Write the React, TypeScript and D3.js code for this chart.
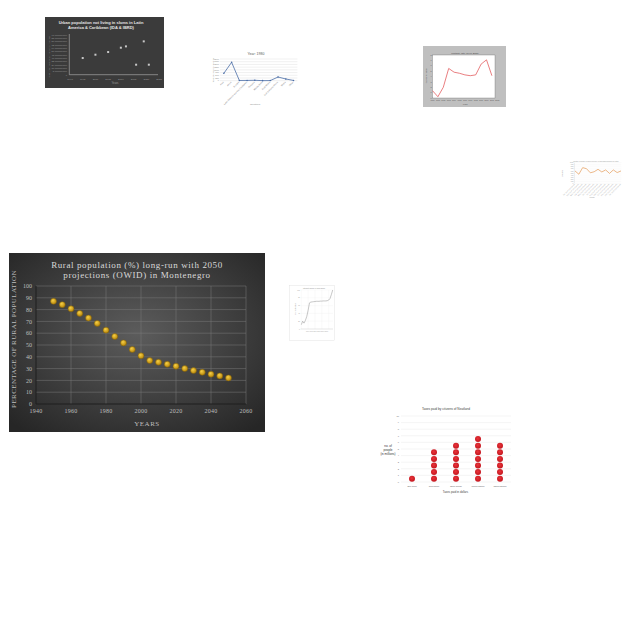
import React from 'react';
import * as d3 from 'd3';

// ---- main chart: rural population Montenegro ----
const ruralYears = [1950, 1955, 1960, 1965, 1970, 1975, 1980, 1985, 1990, 1995, 2000, 2005, 2010, 2015, 2020, 2025, 2030, 2035, 2040, 2045, 2050];
const ruralShare = [87.0, 84.2, 80.7, 76.8, 72.8, 68.3, 62.6, 57.2, 51.8, 46.2, 40.8, 36.8, 35.4, 33.7, 32.0, 30.0, 28.3, 26.9, 25.2, 23.8, 22.1];
const ruralXTicks = [1940, 1960, 1980, 2000, 2020, 2040, 2060];
const ruralYTicks = [0, 10, 20, 30, 40, 50, 60, 70, 80, 90, 100];

// ---- slums scatter (top left) ----
const slumYears = [1995, 2000, 2005, 2010, 2012, 2016, 2019, 2021];
const slumValues = [5.0, 6.0, 6.8, 8.1, 8.5, 3.0, 10.0, 3.0];
const slumXTicks = [1990, 1995, 2000, 2005, 2010, 2015, 2020, 2025];
const slumYTicks = [0, 1, 2, 3, 4, 5, 6, 7, 8, 9, 10, 11, 12];

// ---- year 1980 line ----
const regionNames = ['Asia', 'Africa', 'Europe', 'Latin America and the Caribbean', 'Oceania', 'Middle East', 'Arab World', 'Sub-Saharan Africa', 'World', 'Other'];
const regionValues = [682, 1696, 20, 25, 40, 5, 12, 341, 157, 25];
const regionYTicks = [0, 250, 500, 750, 1000, 1250, 1500, 1750, 2000];

// ---- mortality line (gray box) ----
const mortYears = [1990, 1991, 1992, 1993, 1994, 1995, 1996, 1997, 1998, 1999, 2000, 2001];
const mortValues = [1.36, 0.24, 2.0, 5.5, 4.8, 4.6, 4.3, 4.15, 4.3, 6.3, 7.1, 4.15];
const mortYTicks = [0, 1, 2, 3, 4, 5, 6, 7, 8];

// ---- orange line (right) ----
const orangeLabels = ['Jan 2014', 'Feb 2014', 'Mar 2014', 'Apr 2014', 'May 2014', 'Jun 2014', 'Jul 2014', 'Aug 2014', 'Sep 2014', 'Oct 2014', 'Nov 2014', 'Dec 2014', 'Jan 2015'];
const orangeValues = [60, 44, 76, 71, 51, 56, 68, 55, 65, 48, 65, 52, 60];
const orangeYTicks = [0, 10, 20, 30, 40, 50, 60, 70, 80, 90, 100];

// ---- small gray line ----
const grayIndex = [0, 1, 2, 3, 4, 5, 6, 7, 8, 9, 10, 11, 12, 13, 14, 15, 16, 17, 18, 19, 20, 21, 22, 23];
const grayValues = [11, 20, 15, 22, 32, 48, 67, 69, 69.5, 70, 70.5, 71, 71, 71, 71.5, 71.5, 72, 72, 72, 72.5, 74, 78, 88, 100];
const grayYTicks = [0, 20, 40, 60, 80, 100];

// ---- taxes dot plot ----
const taxBands = ['500-1000', '1000-5000', '5000-10000', '10000-15000', '15000-20000'];
const taxPeople = [1, 5, 6, 7, 6];
const taxYTicks = [0, 1, 2, 3, 4, 5, 6, 7, 8, 9, 10];

const serif = '"Liberation Serif", "DejaVu Serif", serif';
const sans = '"Liberation Sans", Arial, sans-serif';

function RuralChart() {
  const x = d3.scaleLinear().domain([1940, 2060]).range([36, 246]);
  const y = d3.scaleLinear().domain([0, 100]).range([404, 286]);
  return (
    <g>
      <defs>
        <radialGradient id="ruralBg" cx="50%" cy="45%" r="70%">
          <stop offset="0%" stopColor="#5c5c5c" />
          <stop offset="100%" stopColor="#262626" />
        </radialGradient>
        <radialGradient id="dotGold" cx="40%" cy="35%" r="65%">
          <stop offset="0%" stopColor="#f6cf45" />
          <stop offset="100%" stopColor="#b8860b" />
        </radialGradient>
      </defs>
      <rect x={9} y={253} width={256} height={179} fill="url(#ruralBg)" />
      <text x={137} y={268} textAnchor="middle" fill="#d9d9d9" fontFamily={serif} fontSize={9} letterSpacing={0.6}>
        Rural population (%) long-run with 2050
      </text>
      <text x={137} y={278} textAnchor="middle" fill="#d9d9d9" fontFamily={serif} fontSize={9} letterSpacing={0.6}>
        projections (OWID) in Montenegro
      </text>
      {ruralYTicks.filter((t) => t > 0).map((t) => (
        <line key={'h' + t} x1={x(1940)} x2={x(2060)} y1={y(t)} y2={y(t)} stroke="#7a7a7a" strokeWidth={0.5} />
      ))}
      {ruralXTicks.filter((t) => t > 1940).map((t) => (
        <line key={'v' + t} x1={x(t)} x2={x(t)} y1={y(0)} y2={y(100)} stroke="#7a7a7a" strokeWidth={0.5} />
      ))}
      <line x1={x(1940)} x2={x(1940)} y1={y(0)} y2={y(100)} stroke="#1e1e1e" strokeWidth={1} />
      <line x1={x(1940)} x2={x(2060)} y1={y(0)} y2={y(0)} stroke="#1e1e1e" strokeWidth={1} />
      {ruralYTicks.map((t) => (
        <text key={'yl' + t} x={32} y={y(t)} dy="0.35em" textAnchor="end" fill="#bfbfbf" fontFamily={serif} fontSize={6}>
          {t}
        </text>
      ))}
      {ruralXTicks.map((t) => (
        <text key={'xl' + t} x={x(t)} y={413} textAnchor="middle" fill="#bfbfbf" fontFamily={serif} fontSize={6} letterSpacing={0.3}>
          {t}
        </text>
      ))}
      <text transform="translate(16,339) rotate(-90)" textAnchor="middle" fill="#bfbfbf" fontFamily={serif} fontSize={7} letterSpacing={0.4}>
        PERCENTAGE OF RURAL POPULATION
      </text>
      <text x={147} y={426} textAnchor="middle" fill="#bfbfbf" fontFamily={serif} fontSize={7} letterSpacing={0.5}>
        YEARS
      </text>
      {ruralYears.map((yr, i) => (
        <circle key={yr} cx={x(yr)} cy={y(ruralShare[i])} r={3} fill="url(#dotGold)" stroke="#7a5c0a" strokeWidth={0.5} />
      ))}
    </g>
  );
}

function SlumChart() {
  const x = d3.scaleLinear().domain([1990, 2025]).range([70, 159]);
  const y = d3.scaleLinear().domain([0, 12]).range([74.7, 34.7]);
  return (
    <g>
      <rect x={45} y={17} width={119} height={71} fill="#3b3b3b" />
      <text x={101} y={24} textAnchor="middle" fill="#e6e6e6" fontFamily={sans} fontWeight="bold" fontSize={4}>
        Urban population not living in slums in Latin
      </text>
      <text x={101} y={29} textAnchor="middle" fill="#e6e6e6" fontFamily={sans} fontWeight="bold" fontSize={4}>
        America &amp; Caribbean (IDA &amp; IBRD)
      </text>
      {slumYTicks.map((t) => (
        <text key={t} x={67} y={y(t)} dy="0.35em" textAnchor="end" fill="#9a9a9a" fontFamily={sans} fontSize={2.3}>
          {t === 0 ? '0' : (t * 8).toFixed(8) + '%'}
        </text>
      ))}
      <line x1={69.3} x2={69.3} y1={34} y2={74.7} stroke="#cfcfcf" strokeWidth={0.5} />
      <line x1={69.3} x2={158} y1={74.7} y2={74.7} stroke="#cfcfcf" strokeWidth={0.5} />
      {slumXTicks.map((t) => (
        <text key={t} x={x(t)} y={79.5} textAnchor="middle" fill="#9a9a9a" fontFamily={sans} fontSize={2.5}>
          {t}
        </text>
      ))}
      <text x={115} y={84} textAnchor="middle" fill="#9a9a9a" fontFamily={sans} fontSize={2.8}>
        Years
      </text>
      <text transform="translate(50,57) rotate(-90)" textAnchor="middle" fill="#9a9a9a" fontFamily={sans} fontSize={2.3}>
        % of urban population not living in slums
      </text>
      {slumYears.map((yr, i) => (
        <rect key={yr} x={x(yr) - 1} y={y(slumValues[i]) - 1} width={2} height={2} fill="#c8c8c8" />
      ))}
    </g>
  );
}

function RegionChart() {
  const x = d3.scalePoint<string>().domain(regionNames).range([220, 297.4]).padding(0.5);
  const y = d3.scaleLinear().domain([0, 2000]).range([80.7, 59]);
  const line = d3.line<number>().x((_, i) => x(regionNames[i]) as number).y((d) => y(d));
  return (
    <g>
      <text x={256} y={55} textAnchor="middle" fill="#595959" fontFamily={sans} fontSize={3.5}>
        Year: 1980
      </text>
      {regionYTicks.map((t) => (
        <g key={t}>
          <line x1={220} x2={297.4} y1={y(t)} y2={y(t)} stroke="#d9d9d9" strokeWidth={0.4} />
          <text x={219} y={y(t)} dy="0.35em" textAnchor="end" fill="#8c8c8c" fontFamily={sans} fontSize={2.2}>
            {t}
          </text>
        </g>
      ))}
      <text transform="translate(213.5,70) rotate(-90)" textAnchor="middle" fill="#8c8c8c" fontFamily={sans} fontSize={2.2}>
        Total population (millions)
      </text>
      {regionNames.map((n) => (
        <text key={n} transform={`translate(${x(n) as number},82.5) rotate(-45)`} textAnchor="end" fill="#8c8c8c" fontFamily={sans} fontSize={2.2}>
          {n}
        </text>
      ))}
      <text x={255} y={105} textAnchor="middle" fill="#8c8c8c" fontFamily={sans} fontSize={2.4}>
        Countries
      </text>
      <path d={line(regionValues) ?? ''} fill="none" stroke="#4a6da7" strokeWidth={0.8} />
      {regionValues.map((v, i) => (
        <circle key={i} cx={x(regionNames[i]) as number} cy={y(v)} r={0.8} fill="#4a6da7" />
      ))}
    </g>
  );
}

function MortChart() {
  const x = d3.scaleLinear().domain([1990, 2002]).range([432.5, 497.3]);
  const y = d3.scaleLinear().domain([0, 8]).range([98, 55]);
  const line = d3.line<number>().x((_, i) => x(mortYears[i])).y((d) => y(d));
  return (
    <g>
      <rect x={423} y={46} width={83} height={61} fill="#bfbfbf" />
      <rect x={432.5} y={55} width={62.5} height={43} fill="#ffffff" stroke="#555" strokeWidth={0.3} />
      <text x={465} y={53.5} textAnchor="middle" fill="#444" fontFamily={sans} fontSize={2.4}>
        Mortality rate (1990-2015)
      </text>
      {mortYTicks.map((t) => (
        <text key={t} x={431.5} y={y(t)} dy="0.35em" textAnchor="end" fill="#555" fontFamily={sans} fontSize={2}>
          {t}
        </text>
      ))}
      <text transform="translate(427,76) rotate(-90)" textAnchor="middle" fill="#555" fontFamily={sans} fontSize={2}>
        Deaths per 1000
      </text>
      {mortYears.concat([2002]).map((t) => (
        <text key={t} x={x(t)} y={101} textAnchor="middle" fill="#555" fontFamily={sans} fontSize={1.8}>
          {t}
        </text>
      ))}
      <text x={465} y={104.5} textAnchor="middle" fill="#555" fontFamily={sans} fontSize={2}>
        Years
      </text>
      <path d={line(mortValues) ?? ''} fill="none" stroke="#e0484a" strokeWidth={0.7} />
    </g>
  );
}

function OrangeChart() {
  const x = d3.scalePoint<string>().domain(orangeLabels).range([575, 621]);
  const y = d3.scaleLinear().domain([0, 100]).range([183.3, 162.7]);
  const line = d3.line<number>().x((_, i) => x(orangeLabels[i]) as number).y((d) => y(d));
  return (
    <g>
      <text x={596} y={162} textAnchor="middle" fill="#999" fontFamily={sans} fontSize={1.6}>
        Monthly average of sales revenue (in thousand dollars) per store
      </text>
      {orangeYTicks.map((t) => (
        <g key={t}>
          <line x1={574.3} x2={621.3} y1={y(t)} y2={y(t)} stroke="#eeeeee" strokeWidth={0.3} />
          <text x={573.5} y={y(t)} dy="0.35em" textAnchor="end" fill="#999" fontFamily={sans} fontSize={1.6}>
            {t * 10}
          </text>
        </g>
      ))}
      <line x1={574.3} x2={574.3} y1={162.7} y2={183.3} stroke="#bbb" strokeWidth={0.3} />
      <text transform="translate(563,173) rotate(-90)" textAnchor="middle" fill="#999" fontFamily={sans} fontSize={1.6}>
        Revenue
      </text>
      {orangeLabels.map((n) => (
        <text key={n} transform={`translate(${x(n) as number},184.5) rotate(-45)`} textAnchor="end" fill="#aaa" fontFamily={sans} fontSize={1.8}>
          {n + ' (all stores)'}
        </text>
      ))}
      <text x={592} y={198} textAnchor="middle" fill="#999" fontFamily={sans} fontSize={1.8}>
        Month
      </text>
      <path d={line(orangeValues) ?? ''} fill="none" stroke="#e0893a" strokeWidth={0.6} />
    </g>
  );
}

function GrayChart() {
  const x = d3.scaleLinear().domain([0, 23]).range([301.3, 332.7]);
  const y = d3.scaleLinear().domain([0, 100]).range([329, 290]);
  const line = d3.line<number>().x((_, i) => x(grayIndex[i])).y((d) => y(d));
  return (
    <g>
      <rect x={289.7} y={285.7} width={45} height={55} fill="#fff" stroke="#dddddd" strokeWidth={0.4} />
      <text x={314} y={288.8} textAnchor="middle" fill="#888" fontFamily={sans} fontSize={1.8}>
        Internet users in 1990-2016
      </text>
      {grayYTicks.map((t) => (
        <g key={t}>
          <line x1={300.7} x2={333} y1={y(t)} y2={y(t)} stroke="#eeeeee" strokeWidth={0.3} />
          <text x={300} y={y(t)} dy="0.35em" textAnchor="end" fill="#999" fontFamily={sans} fontSize={1.6}>
            {t}
          </text>
        </g>
      ))}
      {[0, 5, 10, 15, 20].map((t) => (
        <line key={'v' + t} x1={x(t)} x2={x(t)} y1={290} y2={329} stroke="#eeeeee" strokeWidth={0.3} />
      ))}
      <line x1={300.7} x2={333} y1={329} y2={329} stroke="#bbb" strokeWidth={0.3} />
      <text transform="translate(296.3,309) rotate(-90)" textAnchor="middle" fill="#999" fontFamily={sans} fontSize={1.7}>
        % of population
      </text>
      <text x={317} y={332} textAnchor="middle" fill="#aaa" fontFamily={sans} fontSize={1.5}>
        1990   1995   2000   2005   2010   2015
      </text>
      <path d={line(grayValues) ?? ''} fill="none" stroke="#8f8f8f" strokeWidth={0.5} />
    </g>
  );
}

function TaxChart() {
  const x = d3.scaleBand<string>().domain(taxBands).range([401, 511]);
  const y = d3.scaleLinear().domain([0, 10]).range([482, 416]);
  const dots: { band: string; k: number }[] = [];
  taxBands.forEach((b, i) => {
    for (let k = 0; k < taxPeople[i]; k++) dots.push({ band: b, k });
  });
  return (
    <g>
      <defs>
        <radialGradient id="dotRed" cx="45%" cy="40%" r="60%">
          <stop offset="0%" stopColor="#e8333a" />
          <stop offset="100%" stopColor="#c4161e" />
        </radialGradient>
      </defs>
      <text x={446} y={410} textAnchor="middle" fill="#444" fontFamily={sans} fontSize={3.2}>
        Taxes paid by citizens of Neatland
      </text>
      {taxYTicks.map((t) => (
        <g key={t}>
          <line x1={401} x2={511} y1={y(t)} y2={y(t)} stroke="#e6e6e6" strokeWidth={0.4} />
          <text x={399} y={y(t)} dy="0.35em" textAnchor="end" fill="#666" fontFamily={sans} fontSize={2.2}>
            {t}
          </text>
        </g>
      ))}
      <text x={388} y={447} textAnchor="middle" fill="#333" fontFamily={sans} fontSize={3}>no. of</text>
      <text x={388} y={451.3} textAnchor="middle" fill="#333" fontFamily={sans} fontSize={3}>people</text>
      <text x={388} y={455.3} textAnchor="middle" fill="#333" fontFamily={sans} fontSize={3}>(in millions)</text>
      {taxBands.map((b) => (
        <text key={b} x={(x(b) as number) + x.bandwidth() / 2} y={487} textAnchor="middle" fill="#555" fontFamily={sans} fontSize={2.2}>
          {b}
        </text>
      ))}
      <text x={455.5} y={492.5} textAnchor="middle" fill="#444" fontFamily={sans} fontSize={2.8}>
        Taxes paid in dollars
      </text>
      {dots.map((d, i) => (
        <circle key={i} cx={(x(d.band) as number) + x.bandwidth() / 2} cy={y(d.k + 0.5)} r={3} fill="url(#dotRed)" />
      ))}
    </g>
  );
}

export default function App() {
  return (
    <svg width={640} height={640} style={{ position: 'absolute', left: 0, top: 0, background: '#ffffff' }}>
      <rect width={640} height={640} fill="#ffffff" />
      <SlumChart />
      <RegionChart />
      <MortChart />
      <OrangeChart />
      <RuralChart />
      <GrayChart />
      <TaxChart />
    </svg>
  );
}
